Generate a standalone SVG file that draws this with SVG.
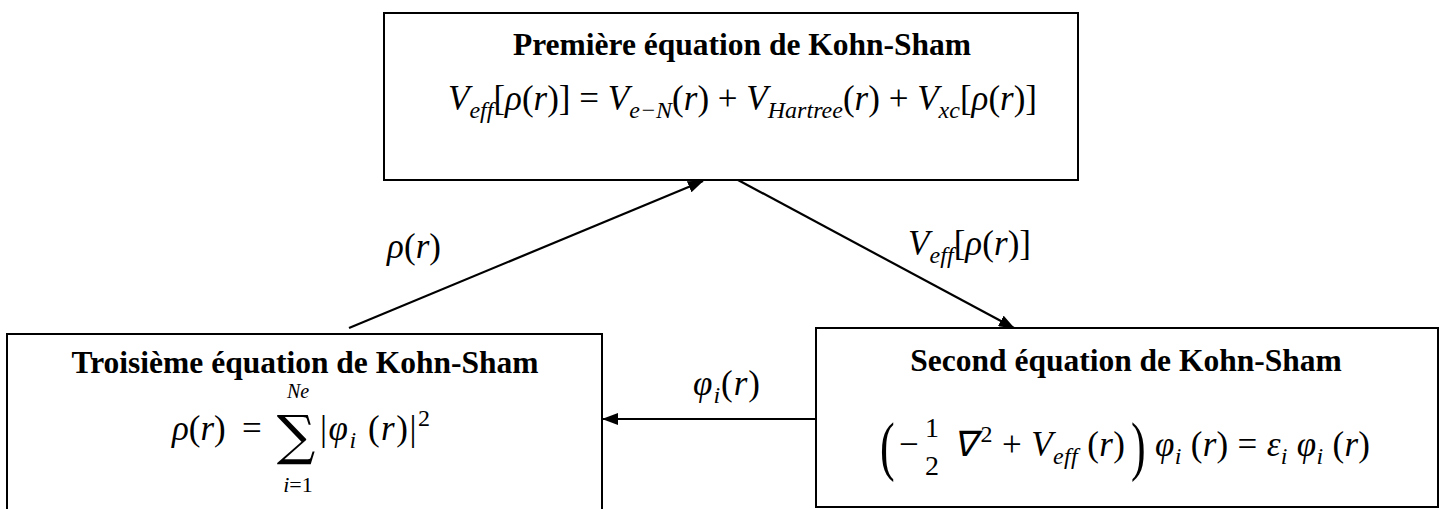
<svg xmlns="http://www.w3.org/2000/svg" width="1443" height="509" viewBox="0 0 1443 509">
<style>
.box{fill:#fff;stroke:#000;stroke-width:2}
.title{font-family:"Liberation Serif",serif;font-weight:bold;font-size:31.5px;fill:#000;text-anchor:middle}
.m{font-family:"Liberation Serif",serif;font-style:italic;font-size:35px;fill:#000}
.u{font-style:normal}
.s{font-size:24px}
.big{font-family:"Liberation Serif",serif;font-size:44px;fill:#000}
.conn{stroke:#000;stroke-width:2.2;fill:none;marker-end:url(#ah)}
</style>
<defs>
<marker id="ah" viewBox="0 0 16 12" refX="15" refY="6" markerWidth="16" markerHeight="12" markerUnits="userSpaceOnUse" orient="auto">
<path d="M0,0 L16,6 L0,12 z" fill="#000"/>
</marker>
</defs>
<g id="node-premiere">
<rect class="box" x="384" y="13" width="694" height="167"/>
<text class="title" x="742" y="55">Première équation de Kohn-Sham</text>
<text class="m" x="448" y="110" textLength="589" lengthAdjust="spacing">V<tspan class="s" dy="8">eff</tspan><tspan class="u" dy="-8">[</tspan>ρ<tspan class="u">(</tspan>r<tspan class="u">)] = </tspan>V<tspan class="s" dy="8">e−N</tspan><tspan class="u" dy="-8">(</tspan>r<tspan class="u">) + </tspan>V<tspan class="s" dy="8">Hartree</tspan><tspan class="u" dy="-8">(</tspan>r<tspan class="u">) + </tspan>V<tspan class="s" dy="8">xc</tspan><tspan class="u" dy="-8">[</tspan>ρ<tspan class="u">(</tspan>r<tspan class="u">)]</tspan></text>
</g>
<g id="node-troisieme">
<path class="box" d="M7,509 L7,334 L602,334 L602,509"/>
<text class="title" x="305" y="373">Troisième équation de Kohn-Sham</text>
<text class="m" x="172" y="440">ρ<tspan class="u">(</tspan>r<tspan class="u">)</tspan></text>
<text class="m u" x="242" y="440">=</text>
<text class="m" x="298" y="398" text-anchor="middle" style="font-size:20px">Ne</text>
<text class="u" x="296" y="454" text-anchor="middle" style="font-family:'DejaVu Serif',serif;font-size:54px">∑</text>
<text class="m" x="298" y="492" text-anchor="middle" style="font-size:22px">i<tspan class="u">=1</tspan></text>
<text class="m" x="320" y="440" textLength="110" lengthAdjust="spacing"><tspan class="u">|</tspan>φ<tspan class="s" dy="8">i</tspan><tspan class="u" dy="-8"> (</tspan>r<tspan class="u">)|</tspan><tspan class="u s" dy="-14">2</tspan></text>
</g>
<g id="node-second">
<rect class="box" x="816" y="328" width="622" height="179"/>
<text class="title" x="1126" y="371">Second équation de Kohn-Sham</text>
<text class="big" transform="translate(880,468) scale(1,1.5)">(</text>
<text class="m u" x="899" y="456">−</text>
<text class="m u" x="932" y="437" text-anchor="middle" style="font-size:28px">1</text>
<text class="m u" x="932" y="475" text-anchor="middle" style="font-size:28px">2</text>
<text class="m" x="953" y="456" textLength="172" lengthAdjust="spacing">∇<tspan class="u s" dx="4" dy="-14">2</tspan><tspan class="u" dy="14"> + </tspan>V<tspan class="s" dy="8">eff</tspan><tspan class="u" dy="-8"> (</tspan>r<tspan class="u">)</tspan></text>
<text class="big" transform="translate(1131,468) scale(1,1.5)">)</text>
<text class="m" x="1155" y="456" textLength="215" lengthAdjust="spacing">φ<tspan class="s" dy="8">i</tspan><tspan class="u" dy="-8"> (</tspan>r<tspan class="u">) = </tspan>ε<tspan class="s" dy="8">i</tspan><tspan dy="-8"> φ</tspan><tspan class="s" dy="8">i</tspan><tspan class="u" dy="-8"> (</tspan>r<tspan class="u">)</tspan></text>
</g>
<g id="connectors">
<line class="conn" x1="349" y1="328" x2="703" y2="181"/>
<line class="conn" x1="738" y1="180" x2="1014" y2="328"/>
<line class="conn" x1="816" y1="419" x2="603" y2="419"/>
<text class="m" x="387" y="258" textLength="54" lengthAdjust="spacing">ρ<tspan class="u">(</tspan>r<tspan class="u">)</tspan></text>
<text class="m" x="908" y="255" textLength="123" lengthAdjust="spacing">V<tspan class="s" dy="8">eff</tspan><tspan class="u" dy="-8">[</tspan>ρ<tspan class="u">(</tspan>r<tspan class="u">)]</tspan></text>
<text class="m" x="693" y="395" textLength="67" lengthAdjust="spacing">φ<tspan class="s" dy="8">i</tspan><tspan class="u" dy="-8">(</tspan>r<tspan class="u">)</tspan></text>
</g>
</svg>
